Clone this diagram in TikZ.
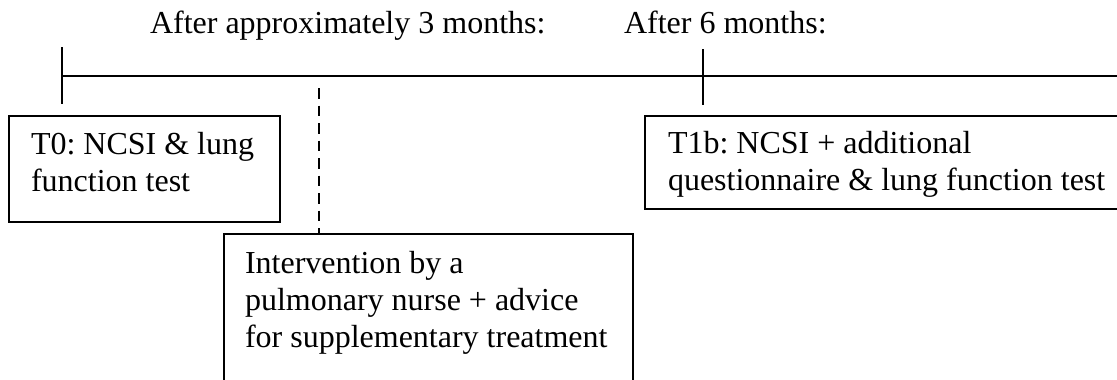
\documentclass[tikz,border=0pt]{standalone}
\usepackage{fontspec}
\setmainfont{Liberation Serif}
\frenchspacing
\begin{document}
\begin{tikzpicture}[x=1pt,y=-1pt, line width=2pt,
  lbl/.style={anchor=base west, inner sep=0pt, font=\fontsize{32}{37}\selectfont},
  box/.style={draw, anchor=north west, inner sep=0pt, line width=2pt},
  tline/.style={line width=2.2pt},
  dashline/.style={dash pattern=on 10.5pt off 7pt, line width=2.2pt}]
\useasboundingbox (0,0) rectangle (1117,380);
\clip (0,0) rectangle (1117,380);
% headings
\node[lbl] (h3) at (149,34) {After approximately 3 months:};
\node[lbl] (h6) at (623,34) {After 6 months:};
% timeline
\coordinate (tl0) at (62,76);
\coordinate (tl1) at (1117,76);
\draw[tline] (tl0) -- (tl1);
\coordinate (tka) at (62,47);
\coordinate (tkb) at (62,104);
\draw[tline] (tka) -- (tkb);
\coordinate (tkc) at (703,49);
\coordinate (tkd) at (703,105);
\draw[tline] (tkc) -- (tkd);
% boxes
\node[box, minimum width=271pt, minimum height=106pt] (t0box) at (8,115) {};
\node[box, minimum width=409pt, minimum height=220pt] (intbox) at (223,233) {};
\node[box, minimum width=490pt, minimum height=93pt] (t1box) at (644,115) {};
% dashed line
\coordinate (dtop) at (319,88);
\draw[dashline] (dtop) -- (dtop |- intbox.north);
% texts
\node[lbl] (t0a) at (30,154) {T0: NCSI \& lung};
\node[lbl] (t0b) at (30,191) {function test};
\node[lbl] (ia) at (244,273) {Intervention by a};
\node[lbl] (ib) at (244,310) {pulmonary nurse + advice};
\node[lbl] (ic) at (244,347) {for supplementary treatment};
\node[lbl] (t1a) at (667,153) {T1b: NCSI + additional};
\node[lbl] (t1b) at (667,190) {questionnaire \& lung function test};
\end{tikzpicture}
\end{document}
